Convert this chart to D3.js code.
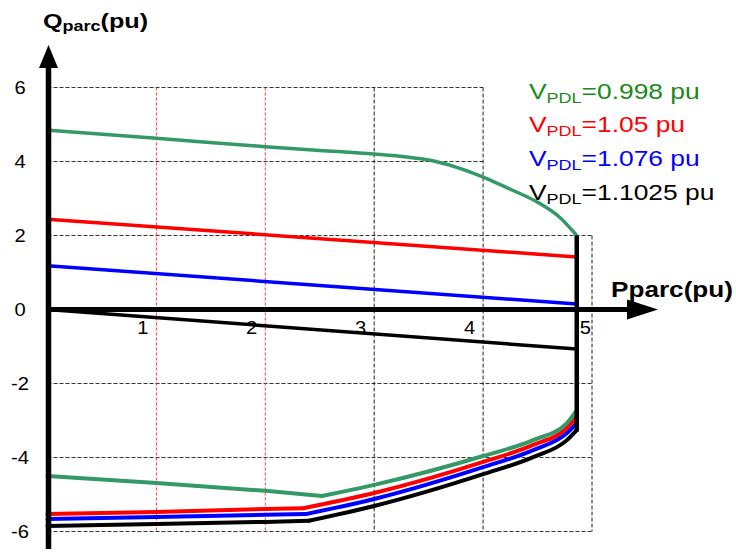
<!DOCTYPE html>
<html><head><meta charset="utf-8">
<script src="https://cdn.jsdelivr.net/npm/d3@7/dist/d3.min.js"></script>
<style>body{margin:0;background:#fff}svg{display:block}text{font-family:"Liberation Sans",Arial,sans-serif}</style>
</head><body>
<script>
// ---- data ----
const P_TICKS = [1, 2, 3, 4, 5];
const Q_TICKS = [-6, -4, -2, 0, 2, 4, 6];
const LEGEND_LABELS = ["0.998", "1.05", "1.076", "1.1025"];
const SERIES_COLORS = ["#339966", "#ff0000", "#0000ff", "#000000"];
const LEGEND_COLORS = ["#1a8a1a", "#ff0000", "#0000ff", "#000000"];
// upper (Qmax) curves [P, Q]
const upperGreen = [[0,4.85],[1,4.63],[2,4.40],[2.5,4.30],[3,4.20],[3.3,4.12],[3.5,4.04],[3.75,3.85],[4,3.58],[4.25,3.25],[4.5,2.9],[4.7,2.5],[4.86,2.0]];
const upperRed   = [[0,2.44],[4.86,1.42]];
const upperBlue  = [[0,1.18],[4.86,0.15]];
const upperBlack = [[0,0],[4.86,-1.07]];
// lower (Qmin) curves [P, Q]; the 4th point is the kink
const lowerGreen = [[0,-4.5],[1,-4.69],[2,-4.9],[2.52,-5.04],[3,-4.74],[4,-3.96],[4.46,-3.53],[4.77,-3.07],[4.86,-2.72]];
const lowerRed   = [[0,-5.53],[1,-5.47],[2,-5.39],[2.35,-5.37],[3,-4.96],[4,-4.12],[4.46,-3.66],[4.77,-3.2],[4.86,-2.9]];
const lowerBlue  = [[0,-5.66],[1,-5.61],[2,-5.55],[2.37,-5.53],[3,-5.12],[4,-4.26],[4.46,-3.8],[4.77,-3.34],[4.86,-3.07]];
const lowerBlack = [[0,-5.85],[1,-5.8],[2,-5.74],[2.4,-5.71],[3,-5.31],[4,-4.45],[4.46,-3.99],[4.77,-3.53],[4.86,-3.26]];
const pLimit = [[4.86,2.0],[4.86,-3.3]];

// ---- drawing ----
const W = 736, H = 559;
const svg = d3.select("body").append("svg").attr("width", W).attr("height", H);
const x = d3.scaleLinear().domain([0, 5]).range([47.5, 592]);
const y = d3.scaleLinear().domain([-6, 6]).range([531.5, 87.5]);

const grid = svg.append("g");
Q_TICKS.filter(q => q !== 0).forEach(q => {
  const xEnd = q > 2 ? 4 : 5;
  grid.append("line").attr("x1", x(0)).attr("x2", x(xEnd))
    .attr("y1", y(q)).attr("y2", y(q))
    .attr("stroke", "#333").attr("stroke-width", 1).attr("stroke-dasharray", "4,2");
});
P_TICKS.forEach(p => {
  const red = p <= 2;
  grid.append("line").attr("x1", x(p)).attr("x2", x(p))
    .attr("y1", y(p === 5 ? 2 : 6)).attr("y2", y(-6))
    .attr("stroke", red ? "#ff3b3b" : "#222").attr("stroke-width", 1)
    .attr("stroke-dasharray", red ? "3,2" : "4,2");
});

const line = d3.line().x(d => x(d[0])).y(d => y(d[1]));
const smooth = d3.line().x(d => x(d[0])).y(d => y(d[1])).curve(d3.curveMonotoneX);

const uppers = [upperGreen, upperRed, upperBlue, upperBlack];
const lowers = [lowerGreen, lowerRed, lowerBlue, lowerBlack];
[3, 2, 1, 0].forEach(k => {
  const s = lowers[k];
  const g = svg.append("g").attr("fill", "none").attr("stroke", SERIES_COLORS[k])
    .attr("stroke-width", 4).attr("stroke-linejoin", "round").attr("stroke-linecap", "round");
  g.append("path").attr("d", line(s.slice(0, 4)));
  g.append("path").attr("d", smooth(s.slice(3)));
});
uppers.forEach((s, k) => {
  svg.append("path").attr("d", k === 0 ? smooth(s) : line(s)).attr("fill", "none")
    .attr("stroke", SERIES_COLORS[k]).attr("stroke-width", 3.5).attr("stroke-linejoin", "round");
});
svg.append("path").attr("d", line(pLimit)).attr("fill", "none")
  .attr("stroke", "#000").attr("stroke-width", 4.5);

// axes
const ax = svg.append("g");
ax.append("line").attr("x1", x(0) - 1).attr("x2", 628).attr("y1", y(0)).attr("y2", y(0))
  .attr("stroke", "#000").attr("stroke-width", 5);
ax.append("path").attr("d", `M627,${y(0) - 10}L658,${y(0)}L627,${y(0) + 10}Z`).attr("fill", "#000");
ax.append("line").attr("x1", x(0) + 1).attr("x2", x(0) + 1).attr("y1", 549).attr("y2", 66)
  .attr("stroke", "#000").attr("stroke-width", 5.5);
ax.append("path").attr("d", `M${x(0) - 8.5},68L${x(0) + 1},45L${x(0) + 10.5},68Z`).attr("fill", "#000");

// tick labels
svg.append("g").selectAll("text").data(Q_TICKS).join("text")
  .attr("transform", d => `translate(20,${y(d)}) scale(1.12,1)`).attr("dy", "0.36em")
  .attr("text-anchor", "middle").attr("font-size", 18).attr("fill", "#000")
  .text(d => d);
svg.append("g").selectAll("text").data(P_TICKS).join("text")
  .attr("transform", d => `translate(${x(d) + (d === 5 ? -1 : -8)},${y(0) + 24}) scale(1.12,1)`)
  .attr("text-anchor", "end").attr("font-size", 18).attr("fill", "#000")
  .text(d => d);

// axis titles
const qt = svg.append("text").attr("transform", "translate(43,28) scale(1.2,1)").attr("font-weight", "bold")
  .attr("font-size", 21).attr("fill", "#000");
qt.append("tspan").text("Q");
qt.append("tspan").attr("font-size", 15).attr("dy", 3).text("parc");
qt.append("tspan").attr("dy", -3).text("(pu)");
svg.append("text").attr("x", 611).attr("y", 297).attr("font-weight", "bold")
  .attr("font-size", 22).attr("fill", "#000").attr("textLength", 122).attr("lengthAdjust", "spacingAndGlyphs").text("Pparc(pu)");

// legend
const lg = svg.append("g");
LEGEND_LABELS.forEach((v, i) => {
  const t = lg.append("text").attr("transform", `translate(529,${98.5 + i * 33.8}) scale(1.2,1)`)
    .attr("font-size", 22).attr("fill", LEGEND_COLORS[i]);
  t.append("tspan").text("V");
  t.append("tspan").attr("font-size", 15).attr("dy", 4).text("PDL");
  t.append("tspan").attr("dy", -4).text("=" + v + " pu");
});
</script>
</body></html>
